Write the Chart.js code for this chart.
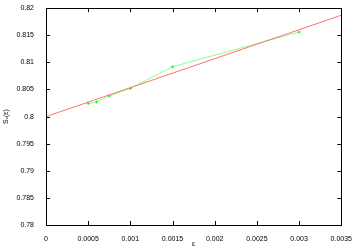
<!DOCTYPE html>
<html>
<head>
<meta charset="utf-8">
<script src="https://cdn.jsdelivr.net/npm/chart.js@4/dist/chart.umd.min.js"></script>
<style>
  html, body { margin: 0; padding: 0; background: #fff; }
</style>
</head>
<body>
<canvas id="chart" width="354" height="248"></canvas>
<script>
// measured points
const epsValues = [0.0005, 0.0006, 0.00075, 0.001, 0.0015, 0.003];
const sxValues = [0.8024, 0.8027, 0.8038, 0.8052, 0.8092, 0.8156];

// fitted line end points
const fitEps = [0, 0.0035];
const fitSx = [0.8, 0.8187];

const xTicks = [0, 0.0005, 0.001, 0.0015, 0.002, 0.0025, 0.003, 0.0035];
const yTicks = [0.78, 0.785, 0.79, 0.795, 0.8, 0.805, 0.81, 0.815, 0.82];

const fmt = (v) => String(+v.toFixed(5));
const font = { family: "Liberation Sans", size: 7 };

// frame + inward tick marks on all four sides, like gnuplot
const framePlugin = {
  id: "frame",
  afterDatasetsDraw(chart) {
    const { ctx, chartArea: a, scales } = chart;
    ctx.save();
    ctx.strokeStyle = "#000";
    ctx.lineWidth = 1;
    ctx.beginPath();
    xTicks.forEach((t) => {
      const x = Math.round(scales.x.getPixelForValue(t)) + 0.5;
      ctx.moveTo(x, a.bottom); ctx.lineTo(x, a.bottom - 4);
      ctx.moveTo(x, a.top); ctx.lineTo(x, a.top + 4);
    });
    yTicks.forEach((t) => {
      const y = Math.round(scales.y.getPixelForValue(t)) + 0.5;
      ctx.moveTo(a.left, y); ctx.lineTo(a.left + 4, y);
      ctx.moveTo(a.right, y); ctx.lineTo(a.right - 4, y);
    });
    ctx.stroke();
    ctx.strokeRect(Math.round(a.left) + 0.5, Math.round(a.top) + 0.5,
      Math.round(a.right - a.left), Math.round(a.bottom - a.top));
    ctx.restore();
  },
};

new Chart(document.getElementById("chart").getContext("2d"), {
  type: "scatter",
  data: {
    datasets: [
      {
        data: fitEps.map((x, i) => ({ x, y: fitSx[i] })),
        showLine: true,
        borderColor: "#ff7070",
        borderWidth: 1,
        pointRadius: 0,
      },
      {
        data: epsValues.map((x, i) => ({ x, y: sxValues[i] })),
        showLine: true,
        borderColor: "#8cff8c",
        borderWidth: 1,
        pointStyle: "cross",
        pointRadius: 1.5,
        pointBorderColor: "#33e633",
        pointBorderWidth: 1,
      },
    ],
  },
  options: {
    responsive: false,
    animation: false,
    layout: { padding: { top: 8, right: 11, left: 2, bottom: 0 } },
    plugins: { legend: { display: false }, tooltip: { enabled: false } },
    scales: {
      x: {
        type: "linear",
        min: 0,
        max: 0.0035,
        grid: { display: false },
        border: { display: false },
        afterBuildTicks: (s) => { s.ticks = xTicks.map((v) => ({ value: v })); },
        afterFit: (s) => { s.height = 23; },
        ticks: { font, color: "#000", padding: 2, maxRotation: 0, callback: fmt },
        title: { display: true, text: "ε", font, color: "#000", padding: 0 },
      },
      y: {
        type: "linear",
        min: 0.78,
        max: 0.82,
        grid: { display: false },
        border: { display: false },
        afterBuildTicks: (s) => { s.ticks = yTicks.map((v) => ({ value: v })); },
        afterFit: (s) => { s.width = 44; },
        ticks: { font, color: "#000", padding: 4, callback: fmt },
        title: { display: true, text: "Sₓ(ε)", font, color: "#000", padding: 0 },
      },
    },
  },
  plugins: [framePlugin],
});
</script>
</body>
</html>
